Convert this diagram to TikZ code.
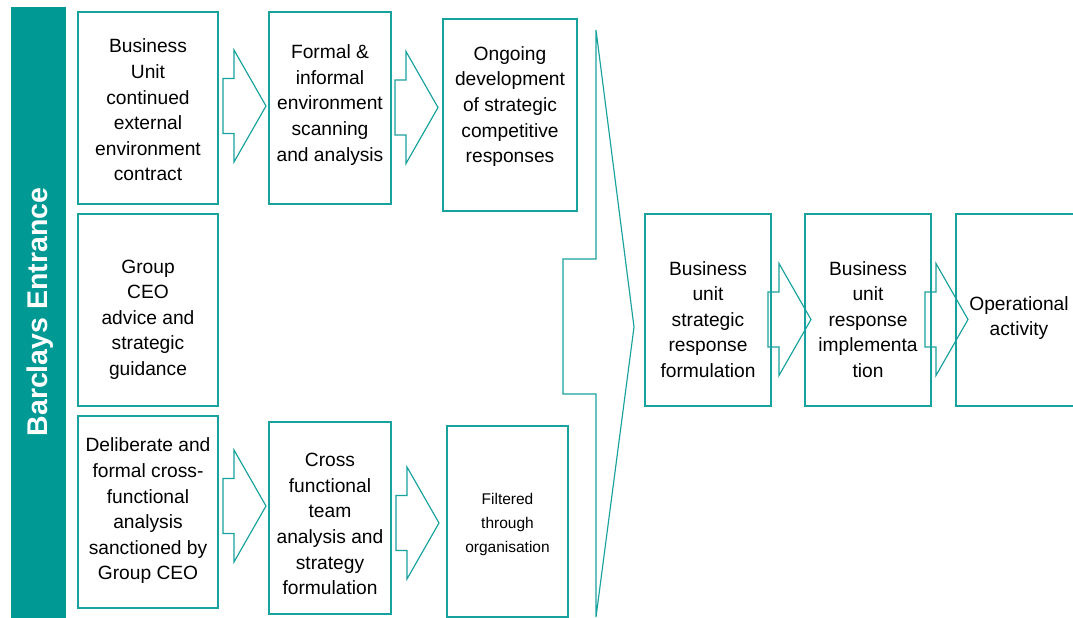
\documentclass[tikz,border=0pt]{standalone}
\usepackage{fontspec}
\setmainfont{Liberation Sans}
\definecolor{barteal}{RGB}{0,153,148}
\definecolor{lineteal}{RGB}{24,162,157}
\tikzset{
  box/.style={draw=lineteal, line width=1.15pt, fill=none},
  txt/.style={align=center, inner sep=0pt, font=\fontsize{19.2}{25.6}\selectfont, text=black},
  smalltxt/.style={align=center, inner sep=0pt, font=\fontsize{15.5}{24}\selectfont, text=black},
  arrowline/.style={draw=lineteal, line width=1.15pt, line join=miter},
  blockarr/.pic={\path[arrowline] (0,-27.5) -- (11,-27.5) -- (11,-56) -- (43,0) -- (11,56) -- (11,27.5) -- (0,27.5) -- cycle;}
}
\begin{document}
\begin{tikzpicture}[x=1pt,y=-1pt]
\useasboundingbox (0,0) rectangle (1073,618);
% side bar
\fill[barteal] (11,7) rectangle (66,618);
\node[rotate=90, text=white, inner sep=0pt, font=\fontsize{28.5}{30}\selectfont\bfseries] (bar) at (40,312) {Barclays Entrance};
% boxes
\draw[box] (78,12) rectangle (218,204) coordinate[pos=.5] (b1);
\draw[box] (78,214) rectangle (218,406) coordinate[pos=.5] (b2);
\draw[box] (78,416) rectangle (218,608) coordinate[pos=.5] (b3);
\draw[box] (269,12) rectangle (391,204);
\draw[box] (443,19) rectangle (577,211);
\draw[box] (269,422) rectangle (391,614);
\draw[box] (447,426) rectangle (568,617);
\draw[box] (645,214) rectangle (771,406);
\draw[box] (805,214) rectangle (931,406);
\draw[box] (956,214) rectangle (1085,406);
% texts
\node[txt] (t1) at (148,110) {Business\\Unit\\continued\\external\\environment\\contract};
\node[txt] (t2) at (148,319.5) {Group\\CEO\\advice and\\strategic\\guidance};
\node[txt] (t3) at (148,511) {Deliberate and\\formal cross-\\functional\\analysis\\sanctioned by\\Group CEO};
\node[txt] (t4) at (330,105) {Formal \&\\informal\\environment\\scanning\\and analysis};
\node[txt] (t5) at (510,106.5) {Ongoing\\development\\of strategic\\competitive\\responses};
\node[txt] (t6) at (330,524) {Cross\\functional\\team\\analysis and\\strategy\\formulation};
\node[smalltxt] (t7) at (507.5,524.5) {Filtered\\through\\organisation};
\node[txt] (t8) at (708,319.5) {Business\\unit\\strategic\\response\\formulation};
\node[txt] (t9) at (868,319.5) {Business\\unit\\response\\implementa\\tion};
\node[txt] (t10) at (1019,318) {Operational\\activity};
% block arrows
\pic at (223,106) {blockarr};
\pic at (395,107.5) {blockarr};
\pic at (223,506) {blockarr};
\pic at (396,523) {blockarr};
\pic at (768,319.5) {blockarr};
\pic at (925,319.5) {blockarr};
% large merging arrow
\path[arrowline] (596,30) -- (596,259) -- (563,259) -- (563,394) -- (596,394) -- (596,617) -- (634,327) -- cycle;
\end{tikzpicture}
\end{document}
